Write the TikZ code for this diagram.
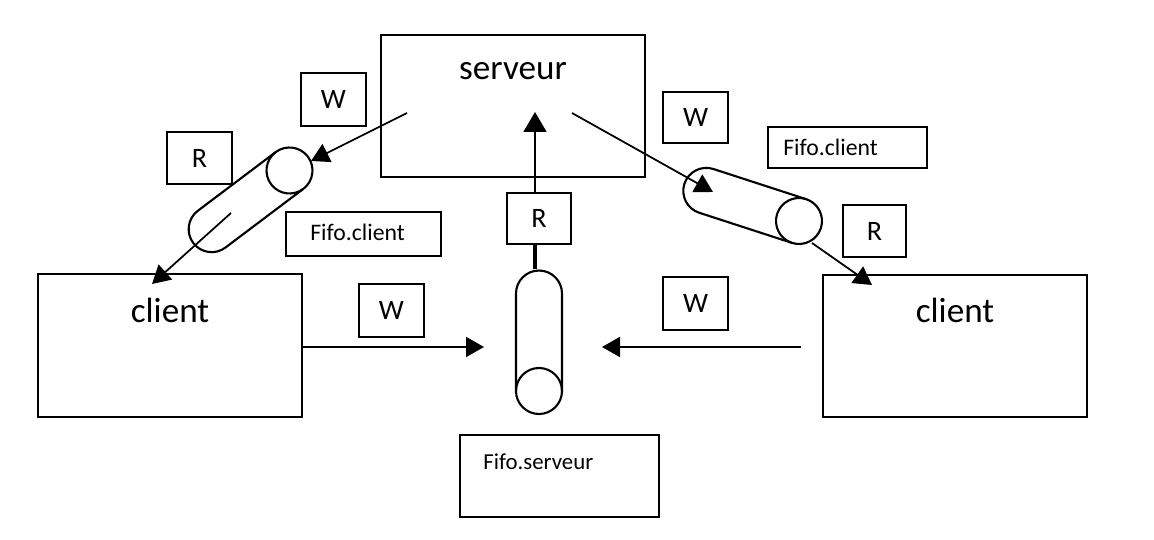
\documentclass[tikz,border=0pt]{standalone}
\usepackage{fontspec}
\setmainfont{Carlito}
\usetikzlibrary{arrows.meta}
\begin{document}
\begin{tikzpicture}[x=0.02cm,y=-0.02cm]
		\tikzset{
		box/.style={draw,line width=1.1pt,inner sep=0pt},
		sz/.style 2 args={minimum width=#1*0.02cm,minimum height=#2*0.02cm},
		rw/.style={box,line width=1pt,font=\fontsize{16}{18}\selectfont},
		lbl/.style={box,line width=1.6pt},
		big/.style={inner sep=0pt,font=\fontsize{20}{24}\selectfont},
		small/.style={inner sep=0pt,anchor=west,font=\fontsize{13.5}{15}\selectfont},
		arr/.style={line width=1pt,-{Triangle[length=0.36cm,width=0.4cm]}},
		pics/tube/.style={code={
			\draw[line width=1.2pt] (0cm,0.46cm)--(1.95cm,0.46cm) arc[start angle=90,end angle=-90,radius=0.46cm]--(0cm,-0.46cm);
			\draw[line width=1.2pt] (0cm,0cm) circle[radius=0.46cm];}}
		}
		\useasboundingbox (0,0) rectangle (1154,540);
		% processes
		\node[box,sz={264}{142}] (srv) at (513,106) {};
		\node[big] (srv-t) at (513,71) {serveur};
		\node[box,sz={264}{143}] (cl) at (170,345.5) {};
		\node[big] (cl-t) at (170,310) {client};
		\node[box,sz={264}{142}] (cr) at (955,346) {};
		\node[big] (cr-t) at (955,310) {client};
		% fifos
		\pic[rotate=217] at (289.5,170.5) {tube};
		\pic[rotate=162] at (799,221) {tube};
		\pic[rotate=90] at (539,391) {tube};
		\node[lbl,sz={155}{44}] (fcl) at (363.5,234) {};
		\node[small] (fcl-t) at (310,232) {Fifo.client};
		\node[lbl,sz={159}{41}] (fcr) at (847.5,147.5) {};
		\node[small] (fcr-t) at (783,147) {Fifo.client};
		\node[box,sz={199}{82}] (fsrv) at (559.5,476) {};
		\node[small,font=\fontsize{13}{15}\selectfont] (fsrv-t) at (483,462) {Fifo.serveur};
		% modes
		\node[rw,sz={65}{53}] (wl) at (333.5,99.5) {W};
		\node[rw,sz={65}{52}] (rl) at (199.5,158) {R};
		\node[rw,sz={64}{51}] (rm) at (539,218.5) {R};
		\node[rw,sz={65}{51}] (wr) at (695.5,117.5) {W};
		\node[rw,sz={63}{52}] (rr) at (874.5,231) {R};
		\node[rw,sz={65}{53}] (wml) at (391.5,310.5) {W};
		\node[rw,sz={65}{53}] (wmr) at (695.5,303.5) {W};
		\path 
		(407,113)coordinate (s1) (311,161)coordinate (t1)
		(231,213)coordinate (s2) (152,284)coordinate (t2)
		(572,113)coordinate (s3) (713,192)coordinate (t3)
		(812,243)coordinate (s4) (872,285)coordinate (t4)
		(535,112)coordinate (mtop) (535,269)coordinate (mbot)
		(484,347)coordinate (ml) (801,347)coordinate (mrs) (602,347)coordinate (mr)
		;
		\draw[arr] (s1)--(t1);
		\draw[arr] (s2)--(t2);
		\draw[arr] (s3)--(t3);
		\draw[arr] (s4)--(t4);
		\draw[line width=1pt,-{Triangle[length=0.4cm,width=0.46cm]}] (rm.north -| mtop)--(mtop);
		\draw[line width=2.4pt] (rm.south -| mbot)--(mbot);
		\draw[arr] (cl.east |- ml)--(ml);
		\draw[arr] (mrs)--(mr);
	\end{tikzpicture}
\end{document}
